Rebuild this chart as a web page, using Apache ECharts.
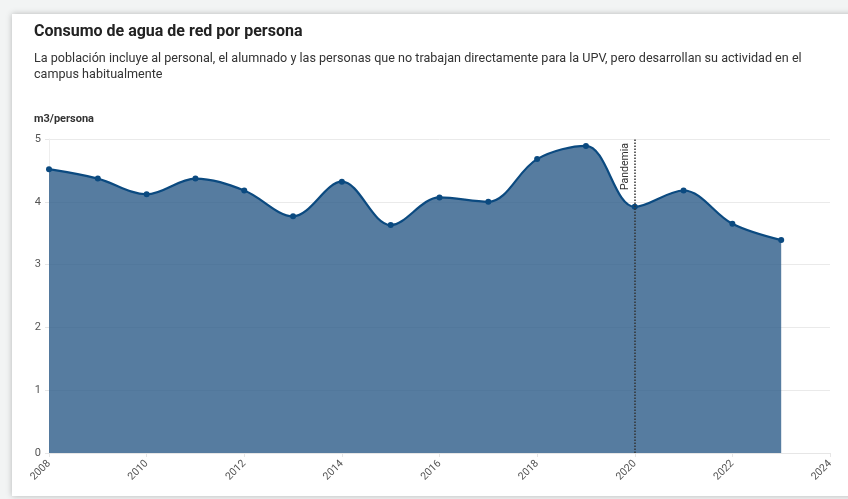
<!DOCTYPE html>
<html><head><meta charset="utf-8">
<script src="https://cdn.jsdelivr.net/npm/echarts@6/dist/echarts.min.js"></script>
<style>
html,body{margin:0;padding:0;width:848px;height:499px;background:#f2f4f4;overflow:hidden;}
#card{position:absolute;left:12px;top:14px;width:860px;height:482px;background:#fff;box-shadow:0 0 6px rgba(0,0,0,0.25);}
#c{position:absolute;left:0;top:0;width:848px;height:499px;}
</style></head>
<body><div id="card"></div><div id="c"></div>
<script>
var years = [2008,2009,2010,2011,2012,2013,2014,2015,2016,2017,2018,2019,2020,2021,2022,2023];
var consumo = [4.52,4.37,4.12,4.37,4.18,3.77,4.32,3.63,4.07,4.00,4.68,4.89,3.92,4.18,3.65,3.39];
var pandemiaYear = 2020;
var titleText = 'Consumo de agua de red por persona';
var subtitleText = 'La población incluye al personal, el alumnado y las personas que no trabajan directamente para la UPV, pero desarrollan su actividad en el\ncampus habitualmente';
var unitText = 'm3/persona';

var chart = echarts.init(document.getElementById('c'));
chart.setOption({
  backgroundColor: 'transparent',
  title: [
    {text: titleText, left: 34, top: 24, padding: 0, textStyle: {fontFamily: 'Roboto', fontWeight: 'bold', fontSize: 16, color: '#222'}},
    {text: subtitleText, left: 34, top: 51, padding: 0, textStyle: {fontFamily: 'Roboto', fontWeight: 'normal', fontSize: 12.6, lineHeight: 16, color: '#333'}},
    {text: unitText, left: 34, top: 114, padding: 0, textStyle: {fontFamily: 'Roboto', fontWeight: 'bold', fontSize: 11, color: '#333'}}
  ],
  grid: {left: 49, right: 18, top: 139, bottom: 46},
  xAxis: {
    type: 'value', min: 2008, max: 2024, interval: 2,
    axisLine: {show: true, lineStyle: {color: '#e6e6e6'}},
    axisTick: {show: true, length: 4, lineStyle: {color: '#e6e6e6'}},
    splitLine: {show: false},
    axisLabel: {rotate: 45, color: '#555', fontFamily: 'Roboto', fontSize: 10.5, margin: 9, formatter: function(v){ return String(v); }}
  },
  yAxis: {
    type: 'value', min: 0, max: 5, interval: 1,
    axisLine: {show: true, lineStyle: {color: '#eeeeee'}},
    axisTick: {show: true, length: 4, lineStyle: {color: '#e6e6e6'}},
    splitLine: {show: true, lineStyle: {color: '#eaeaea'}},
    axisLabel: {color: '#555', fontFamily: 'Roboto', fontSize: 11, margin: 8}
  },
  series: [{
    type: 'line',
    data: years.map(function(y, i){ return [y, consumo[i]]; }),
    smooth: 0.35,
    symbol: 'circle', symbolSize: 6,
    lineStyle: {color: '#0b4a80', width: 2.2},
    itemStyle: {color: '#0b4a80'},
    areaStyle: {color: 'rgb(44,91,136)', opacity: 0.8},
    markLine: {
      silent: true, symbol: 'none',
      lineStyle: {type: 'dotted', color: '#333', width: 1.5},
      label: {show: true, formatter: 'Pandemia', position: 'insideEndTop', color: '#333', fontFamily: 'Roboto', fontSize: 10.5, distance: 4},
      data: [{xAxis: pandemiaYear}]
    }
  }]
});
</script></body></html>
